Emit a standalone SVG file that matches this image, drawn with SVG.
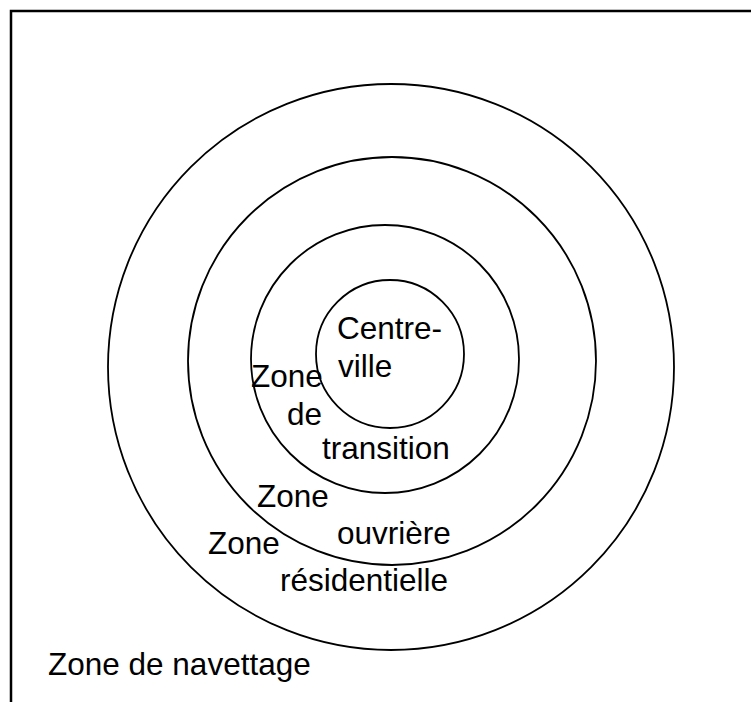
<svg xmlns="http://www.w3.org/2000/svg" width="751" height="702" viewBox="0 0 751 702">
  <style>
    .ring { fill: none; stroke: #000; stroke-width: 1.8; }
    .frame { fill: none; stroke: #000; stroke-width: 2.5; }
    .lbl { font-family: "Liberation Sans", Arial, sans-serif; font-size: 31.5px; fill: #000; }
  </style>
  <rect width="751" height="702" fill="#fff"/>
  <rect id="frame" class="frame" x="11" y="11" width="760" height="720"/>
  <g id="zone-navettage">
    <circle class="ring" cx="391" cy="367" r="283"/>
    <text class="lbl" x="48" y="675">Zone de navettage</text>
  </g>
  <g id="zone-residentielle">
    <circle class="ring" cx="392" cy="361" r="204"/>
    <text class="lbl" x="208" y="554">Zone</text>
    <text class="lbl" x="280" y="591">résidentielle</text>
  </g>
  <g id="zone-ouvriere">
    <circle class="ring" cx="385" cy="359" r="134"/>
    <text class="lbl" x="257" y="507">Zone</text>
    <text class="lbl" x="337" y="544">ouvrière</text>
  </g>
  <g id="zone-transition">
    <text class="lbl" x="251" y="387">Zone</text>
    <text class="lbl" x="287" y="425">de</text>
    <text class="lbl" x="322" y="459">transition</text>
  </g>
  <g id="centre-ville">
    <circle class="ring" cx="390" cy="354" r="74"/>
    <text class="lbl" x="337" y="339">Centre-</text>
    <text class="lbl" x="338" y="377">ville</text>
  </g>
</svg>
